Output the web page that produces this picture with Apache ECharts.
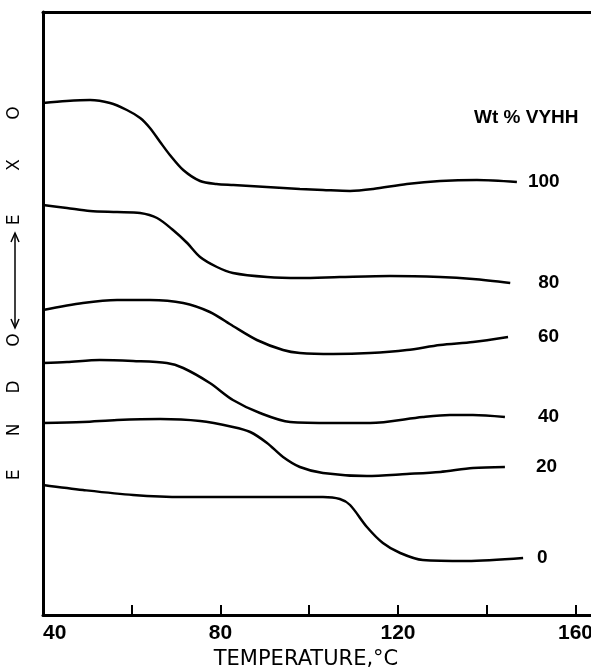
<!DOCTYPE html>
<html>
<head>
<meta charset="utf-8">
<script src="https://cdn.jsdelivr.net/npm/echarts@6/dist/echarts.min.js"></script>
<style>
  html, body { margin: 0; padding: 0; background: #fff; }
  #chart { width: 591px; height: 667px; }
</style>
</head>
<body>
<div id="chart"></div>
<script>
// DSC traces, temperature (C) vs. arbitrary heat flow units (endo down)
const tempTicks = [40, 80, 120, 160];

const t100 = [40, 45.3, 50.6, 55.1, 58.9, 61.9, 64.1, 66.4, 68.6, 71.6, 75.4, 79.1, 82.9, 90.4, 97.9, 103.1, 109.2, 114.4, 122.0, 129.5, 137.8, 146.8];
const v100 = [512, 514, 515, 512, 505, 497, 487, 473, 460, 445, 434, 431, 430, 428, 426, 425, 424, 426, 431, 434, 435, 433];

const t80 = [40, 45.4, 50.6, 56.7, 61.9, 65.7, 69.3, 72.5, 75.4, 79.2, 82.8, 90.5, 97.9, 106.9, 118.2, 129.5, 136.9, 145.3];
const v80 = [410, 407, 404, 403, 402, 397, 385, 372, 358, 348, 342, 338, 337, 338, 339, 338, 336, 332];

const t60 = [40, 49, 56.7, 64.1, 71.6, 77.6, 82.8, 88.2, 94.1, 97.9, 105.4, 113.7, 122, 129.5, 136.9, 144.8];
const v60 = [305, 312, 315, 315, 312, 303, 289, 275, 265, 262, 261, 262, 265, 270, 273, 278];

const t40 = [40, 45.4, 52.8, 60.3, 67.9, 71.6, 77.6, 82.8, 88.9, 95.7, 105.4, 113.7, 125.6, 131.7, 136.9, 144.1];
const v40 = [252, 253, 255, 254, 252, 247, 232, 215, 202, 193, 192, 192, 198, 200, 200, 198];

const t20 = [40, 49, 56.7, 66.4, 75.4, 82.8, 86.7, 90.5, 94.1, 97.9, 103.1, 113, 122, 129.5, 136.9, 144.1];
const v20 = [192, 193, 195, 196, 194, 188, 183, 172, 158, 148, 142, 139, 141, 143, 147, 148];

const t0 = [40, 49, 60.3, 71.6, 82.8, 95.7, 103.1, 106.9, 109.2, 113, 116.6, 120.5, 125.6, 135.5, 148.2];
const v0 = [130, 125, 120, 118, 118, 118, 118, 116, 110, 88, 72, 62, 55, 54, 57];

// label distance from curve end, px
const curves = [
  { name: '100', t: t100, v: v100, gap: 11 },
  { name: '80', t: t80, v: v80, gap: 28 },
  { name: '60', t: t60, v: v60, gap: 30 },
  { name: '40', t: t40, v: v40, gap: 33 },
  { name: '20', t: t20, v: v20, gap: 31 },
  { name: '0', t: t0, v: v0, gap: 14 }
];

function pairs(t, v) {
  return t.map((x, i) => [x, v[i]]);
}

const series = curves.map(c => ({
  name: c.name,
  type: 'line',
  data: pairs(c.t, c.v),
  smooth: 0.3,
  showSymbol: false,
  lineStyle: { color: '#000', width: 2.5 },
  endLabel: {
    show: true,
    formatter: c.name,
    distance: c.gap,
    color: '#000',
    fontFamily: 'Liberation Sans',
    fontWeight: 'bold',
    fontSize: 19
  }
}));

const chart = echarts.init(document.getElementById('chart'));

// axis name letters, rotated, bottom to top
const leftLetters = [
  { s: 'E', y: 475 }, { s: 'N', y: 430 }, { s: 'D', y: 387 }, { s: 'O', y: 340 },
  { s: 'E', y: 220 }, { s: 'X', y: 165 }, { s: 'O', y: 113 }
];

const graphics = leftLetters.map(l => ({
  type: 'text',
  x: 15, y: l.y,
  rotation: Math.PI / 2,
  style: {
    text: l.s, fill: '#000', font: '17px "DejaVu Sans"',
    align: 'center', verticalAlign: 'middle'
  }
}));

// double arrow between ENDO and EXO
graphics.push(
  { type: 'line', shape: { x1: 15, y1: 234, x2: 15, y2: 327 }, style: { stroke: '#000', lineWidth: 1.5 } },
  { type: 'polyline', shape: { points: [[11, 242], [15, 233], [19, 242]] }, style: { stroke: '#000', lineWidth: 1.5, fill: null } },
  { type: 'polyline', shape: { points: [[11, 319], [15, 328], [19, 319]] }, style: { stroke: '#000', lineWidth: 1.5, fill: null } },
  {
    type: 'text', x: 474, y: 118,
    style: {
      text: 'Wt % VYHH', fill: '#000',
      font: 'bold 19px "Liberation Sans"', verticalAlign: 'middle'
    }
  }
);

chart.setOption({
  animation: false,
  backgroundColor: '#fff',
  grid: { left: 43, right: 0, top: 12, bottom: 52, outerBoundsMode: 'none' },
  xAxis: [
    {
      type: 'value',
      min: 40, max: 163.5, interval: 20,
      name: 'TEMPERATURE,°C',
      nameLocation: 'middle',
      nameGap: 31,
      nameTextStyle: { color: '#000', fontFamily: 'DejaVu Sans', fontSize: 21, padding: [0, 22, 0, 0] },
      axisLine: { lineStyle: { color: '#000', width: 3 } },
      axisTick: { inside: true, length: 10, lineStyle: { color: '#000', width: 2 } },
      axisLabel: {
        color: '#000', fontFamily: 'Liberation Sans', fontWeight: 'bold', fontSize: 21,
        margin: 8,
        alignMinLabel: 'left',
        showMaxLabel: false,
        formatter: val => tempTicks.indexOf(val) >= 0 ? String(val) : ''
      },
      splitLine: { show: false }
    },
    {
      type: 'value', position: 'top',
      min: 40, max: 163.5,
      axisLine: { show: true, lineStyle: { color: '#000', width: 3 } },
      axisTick: { show: false },
      axisLabel: { show: false },
      splitLine: { show: false }
    }
  ],
  yAxis: {
    type: 'value',
    min: 0, max: 603,
    axisLine: { show: true, lineStyle: { color: '#000', width: 3 } },
    axisTick: { show: false },
    axisLabel: { show: false },
    splitLine: { show: false }
  },
  graphic: graphics,
  series: series
});
</script>
</body>
</html>
